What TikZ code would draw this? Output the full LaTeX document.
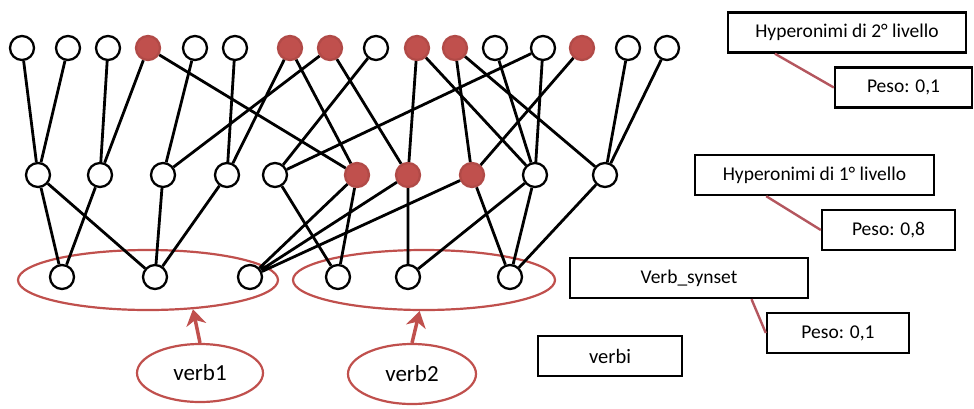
\documentclass[tikz,border=0pt]{standalone}
\usepackage{fontspec}
\setmainfont{Carlito}
\usetikzlibrary{positioning, arrows.meta, calc, shapes.geometric}
\definecolor{hyperRed}{RGB}{192,80,77}
\definecolor{linkRed}{RGB}{180,86,94}

\begin{document}
\begin{tikzpicture}[
  x=1pt, y=-1pt,
  >=Latex
]
% -------------------- Styles --------------------
\tikzset{
  synset/.style={
    circle, draw, line width=2.3pt, fill=white,
    minimum size=24pt, inner sep=0pt
  },
  marked/.style={
    synset, draw=hyperRed!92!black, fill=hyperRed
  },
  rel/.style={line width=2.8pt},
  group/.style={
    ellipse, draw=hyperRed, line width=2.2pt, inner sep=0pt
  },
  verbEll/.style={
    group, font=\fontsize{23}{26}\selectfont
  },
  pointer/.style={-{Stealth[length=16pt, width=20pt, inset=5pt]}, draw=hyperRed, line width=3.5pt},
  legend/.style={
    draw, line width=2.4pt, fill=white, inner sep=0pt,
    minimum height=40pt, font=\fontsize{19.5}{22}\selectfont
  },
  link/.style={draw=linkRed, line width=2.4pt}
}

\fill[white] (0,0) rectangle (974,408);
\useasboundingbox (0,0) rectangle (974,408);

% -------------------- Verb groups --------------------
\node[group, minimum width=260pt, minimum height=60pt] (grp1) at (148,280) {};
\node[group, minimum width=262pt, minimum height=60pt] (grp2) at (424,280) {};

\node[verbEll, minimum width=126pt, minimum height=58pt] (verb1) at (200,373) {verb1};
\node[verbEll, minimum width=128pt, minimum height=60pt] (verb2) at (412,374) {verb2};

\draw[pointer] (verb1.north) -- (grp1.-33);
\draw[pointer] (verb2.north) -- (grp2.-98);

% -------------------- Top row: 2nd level hypernyms --------------------
\node[synset] (t1)  at (22,48)  {};
\node[synset] (t2)  at (68,48)  {};
\node[synset] (t3)  at (108,48) {};
\node[marked] (t4)  at (148,48) {};
\node[synset] (t5)  at (195,48) {};
\node[synset] (t6)  at (235,48) {};
\node[marked] (t7)  at (290,48) {};
\node[marked] (t8)  at (330,48) {};
\node[synset] (t9)  at (376,48) {};
\node[marked] (t10) at (417,48) {};
\node[marked] (t11) at (455,48) {};
\node[synset] (t12) at (495,48) {};
\node[synset] (t13) at (543,48) {};
\node[marked] (t14) at (582,48) {};
\node[synset] (t15) at (628,48) {};
\node[synset] (t16) at (667,48) {};

% -------------------- Middle row: 1st level hypernyms --------------------
\node[synset] (m1)  at (38,175)  {};
\node[synset] (m2)  at (100,175) {};
\node[synset] (m3)  at (163,175) {};
\node[synset] (m4)  at (227,175) {};
\node[synset] (m5)  at (275,175) {};
\node[marked] (m6)  at (357,175) {};
\node[marked] (m7)  at (408,175) {};
\node[marked] (m8)  at (472,175) {};
\node[synset] (m9)  at (535,175) {};
\node[synset] (m10) at (605,175) {};

% -------------------- Bottom row: verb synsets --------------------
\node[synset] (b1) at (62,277)  {};
\node[synset] (b2) at (155,277) {};
\node[synset] (b3) at (250,277) {};
\node[synset] (b4) at (338,277) {};
\node[synset] (b5) at (408,277) {};
\node[synset] (b6) at (510,277) {};

% hypernym links, upper level
\draw[rel] (m1) -- (t1) (m1) -- (t2);
\draw[rel] (m2) -- (t3) (m2) -- (t4);
\draw[rel] (m3) -- (t5) (m3) -- (t8);
\draw[rel] (m4) -- (t6) (m4) -- (t7);
\draw[rel] (m5) -- (t9) (m5) -- (t13);
\draw[rel] (m6) -- (t4) (m6) -- (t7);
\draw[rel] (m7) -- (t8) (m7) -- (t10);
\draw[rel] (m8) -- (t11) (m8) -- (t14);
\draw[rel] (m9) -- (t10) (m9) -- (t12) (m9) -- (t13);
\draw[rel] (m10) -- (t11) (m10) -- (t15) (m10) -- (t16);

% hypernym links, lower level
\draw[rel] (b1) -- (m1) (b1) -- (m2);
\draw[rel] (b2) -- (m1) (b2) -- (m3) (b2) -- (m4);
\draw[rel] (b3) -- (m6) (b3) -- (m7) (b3) -- (m8);
\draw[rel] (b4) -- (m5) (b4) -- (m6);
\draw[rel] (b5) -- (m7) (b5) -- (m9);
\draw[rel] (b6) -- (m8) (b6) -- (m9) (b6) -- (m10);

% -------------------- Legend (weights) --------------------
\node[legend, minimum width=238pt] (hyp2) at (847,32.5) {Hyperonimi di 2° livello};
\node[legend, minimum width=137pt] (w2) at (903.5,87.5) {Peso: 0,1};

\node[legend, minimum width=239pt] (hyp1) at (814.5,175) {Hyperonimi di 1° livello};
\node[legend, minimum width=133pt] (w1) at (888.5,230) {Peso: 0,8};

\node[legend, minimum width=238pt] (vsyn) at (689,278) {Verb\_synset};
\node[legend, minimum width=142pt] (w0) at (838,333) {Peso: 0,1};

\node[legend, minimum width=144pt, font=\fontsize{20.5}{24}\selectfont] (verbi) at (610,356) {verbi};

\draw[link] ($(hyp2.south west)!0.2!(hyp2.south east)$) -- (w2.west);
\draw[link] ($(hyp1.south west)!0.3!(hyp1.south east)$) -- (w1.west);
\draw[link] ($(vsyn.south west)!0.76!(vsyn.south east)$) -- (w0.west);

\end{tikzpicture}
\end{document}
